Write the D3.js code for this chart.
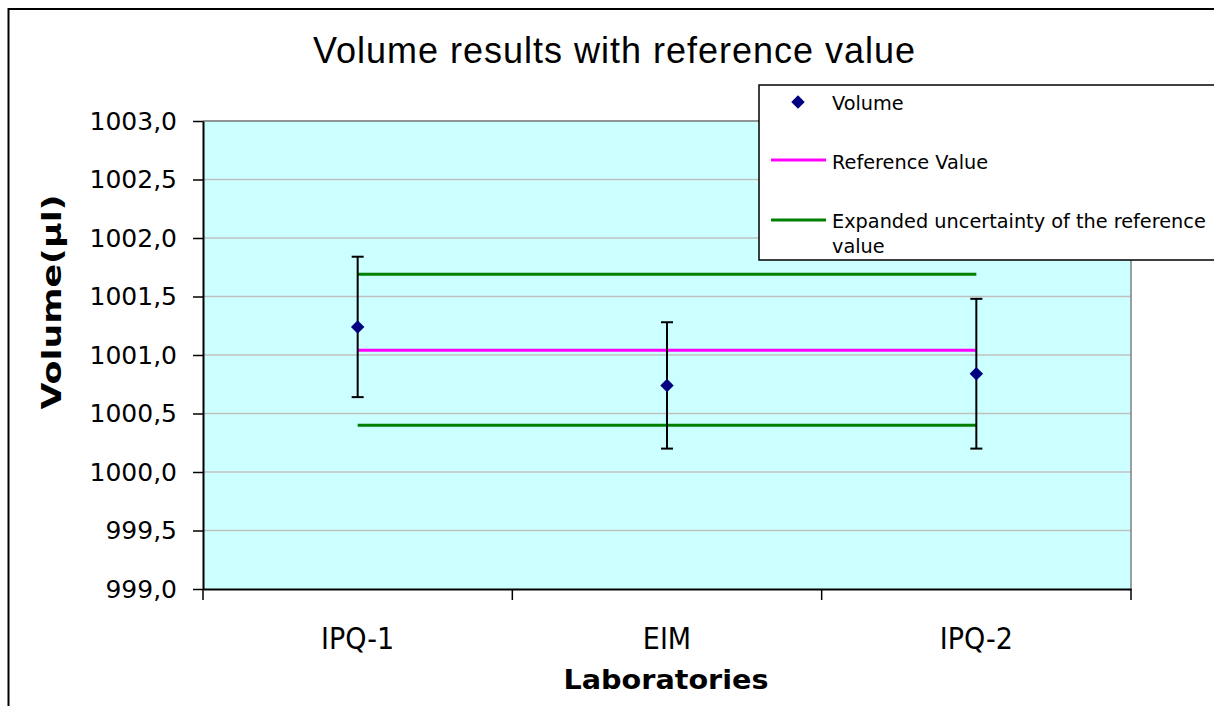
<!DOCTYPE html>
<html>
<head>
<meta charset="utf-8">
<script src="https://cdn.jsdelivr.net/npm/d3@7"></script>
<style>
  body { margin: 0; background: #fff; }
  svg { display: block; }
</style>
</head>
<body>
<svg width="1214" height="706"></svg>
<script>
// chart data
const labs = ["IPQ-1", "EIM", "IPQ-2"];
const volume = [1001.24, 1000.74, 1000.84];
const volumeU = [0.6, 0.54, 0.64];
const refValue = [1001.04, 1001.04, 1001.04];
const refUpper = [1001.69, 1001.69, 1001.69];
const refLower = [1000.40, 1000.40, 1000.40];
const yTicks = [999, 999.5, 1000, 1000.5, 1001, 1001.5, 1002, 1002.5, 1003];
const legendNames = ["Volume", "Reference Value", "Expanded uncertainty of the reference value"];

document.addEventListener("DOMContentLoaded", function () {
  const svg = d3.select("svg");
  const margin = { top: 121, right: 83, bottom: 117, left: 203 };
  const width = +svg.attr("width") - margin.left - margin.right;
  const height = +svg.attr("height") - margin.top - margin.bottom;

  // outer chart border (cropped on right and bottom)
  svg.append("rect")
    .attr("x", 8.5).attr("y", 9)
    .attr("width", 1240).attr("height", 740)
    .attr("fill", "#fff")
    .attr("stroke", "#000").attr("stroke-width", 2);

  const g = svg.append("g").attr("transform", `translate(${margin.left},${margin.top})`);

  const x = d3.scaleBand().domain(labs).range([0, width]);
  const y = d3.scaleLinear().domain([999, 1003]).range([height, 0]);
  const cx = (d) => x(d) + x.bandwidth() / 2;

  // plot area
  g.append("rect")
    .attr("width", width).attr("height", height)
    .attr("fill", "#ccffff");

  // gridlines
  g.selectAll(".grid")
    .data(yTicks.slice(1))
    .enter()
    .append("line")
    .attr("class", "grid")
    .attr("x1", 0).attr("x2", width)
    .attr("y1", (d) => y(d)).attr("y2", (d) => y(d))
    .attr("stroke", "#c0c0c0").attr("stroke-width", 1.5);

  // plot border top/right
  g.append("path")
    .attr("d", `M0,0H${width}V${height}`)
    .attr("fill", "none")
    .attr("stroke", "#808080").attr("stroke-width", 1.5);

  // y axis
  const fmt = d3.formatLocale({ decimal: ",", thousands: "", grouping: [3], currency: ["", ""] }).format(".1f");
  const yAxis = g.append("g")
    .call(d3.axisLeft(y).tickValues(yTicks).tickFormat(fmt).tickSize(10).tickSizeOuter(0).tickPadding(16));
  yAxis.select(".domain").attr("stroke", "#000").attr("stroke-width", 2);
  yAxis.selectAll(".tick line").attr("stroke", "#000").attr("stroke-width", 1.5);
  yAxis.selectAll("text")
    .style("font-family", "DejaVu Sans")
    .style("font-size", "25px")
    .attr("fill", "#000");

  // x axis (labels a bit narrow, like the original)
  const xAxis = g.append("g")
    .attr("transform", `translate(0,${height})`)
    .call(d3.axisBottom(x).tickSize(0).tickSizeOuter(0).tickPadding(39));
  xAxis.select(".domain").attr("stroke", "#000").attr("stroke-width", 2);
  xAxis.selectAll("text")
    .attr("transform", "scale(0.9,1)")
    .style("font-family", "DejaVu Sans")
    .style("font-size", "30px")
    .attr("fill", "#000");

  // category boundary ticks
  const bounds = d3.range(labs.length + 1).map((i) => i * x.step());
  xAxis.selectAll(".bound")
    .data(bounds)
    .enter()
    .append("line")
    .attr("class", "bound")
    .attr("x1", (d) => d).attr("x2", (d) => d)
    .attr("y1", 0).attr("y2", 11)
    .attr("stroke", "#000").attr("stroke-width", 1.5);

  // reference lines
  const line = d3.line().x((d, i) => cx(labs[i])).y((d) => y(d));
  g.append("path").datum(refUpper).attr("d", line)
    .attr("fill", "none").attr("stroke", "#008000").attr("stroke-width", 3);
  g.append("path").datum(refLower).attr("d", line)
    .attr("fill", "none").attr("stroke", "#008000").attr("stroke-width", 3);
  g.append("path").datum(refValue).attr("d", line)
    .attr("fill", "none").attr("stroke", "#ff00ff").attr("stroke-width", 3);

  // error bars
  const pts = labs.map((l, i) => ({ lab: l, v: volume[i], u: volumeU[i] }));
  const eb = g.selectAll(".err").data(pts).enter().append("g").attr("class", "err");
  eb.append("line")
    .attr("x1", (d) => cx(d.lab)).attr("x2", (d) => cx(d.lab))
    .attr("y1", (d) => y(d.v + d.u)).attr("y2", (d) => y(d.v - d.u))
    .attr("stroke", "#000").attr("stroke-width", 2);
  [1, -1].forEach((s) => {
    eb.append("line")
      .attr("x1", (d) => cx(d.lab) - 6).attr("x2", (d) => cx(d.lab) + 6)
      .attr("y1", (d) => y(d.v + s * d.u)).attr("y2", (d) => y(d.v + s * d.u))
      .attr("stroke", "#000").attr("stroke-width", 2);
  });

  // diamonds
  const diamond = d3.symbol().type(d3.symbolDiamond2).size(115);
  g.selectAll(".pt").data(pts).enter().append("path")
    .attr("class", "pt")
    .attr("d", diamond)
    .attr("transform", (d) => `translate(${cx(d.lab)},${y(d.v)})`)
    .attr("fill", "#000080");

  // title
  svg.append("text")
    .attr("x", 614).attr("y", 63)
    .attr("text-anchor", "middle")
    .attr("textLength", 602)
    .style("font-family", "Liberation Sans")
    .style("font-size", "36px")
    .text("Volume results with reference value");

  // axis titles
  svg.append("text")
    .attr("x", 666).attr("y", 689)
    .attr("text-anchor", "middle")
    .attr("textLength", 205)
    .attr("lengthAdjust", "spacingAndGlyphs")
    .style("font-family", "DejaVu Sans")
    .style("font-weight", "bold")
    .style("font-size", "26px")
    .text("Laboratories");

  svg.append("text")
    .attr("transform", "translate(61,302) rotate(-90)")
    .attr("text-anchor", "middle")
    .attr("textLength", 215)
    .attr("lengthAdjust", "spacingAndGlyphs")
    .style("font-family", "DejaVu Sans")
    .style("font-weight", "bold")
    .style("font-size", "26px")
    .text("Volume(\u00b5l)");

  // legend
  const legend = svg.append("g").attr("class", "legend");
  legend.append("rect")
    .attr("x", 759).attr("y", 85)
    .attr("width", 500).attr("height", 175)
    .attr("fill", "#fff")
    .attr("stroke", "#000").attr("stroke-width", 1.5);

  legend.append("path")
    .attr("d", diamond)
    .attr("transform", "translate(798,102)")
    .attr("fill", "#000080");
  legend.append("line")
    .attr("x1", 771).attr("x2", 826).attr("y1", 160).attr("y2", 160)
    .attr("stroke", "#ff00ff").attr("stroke-width", 3);
  legend.append("line")
    .attr("x1", 771).attr("x2", 826).attr("y1", 220).attr("y2", 220)
    .attr("stroke", "#008000").attr("stroke-width", 3);

  const lt = legend.selectAll(".lt")
    .data([
      { t: legendNames[0], y: 110 },
      { t: legendNames[1], y: 169 },
      { t: "Expanded uncertainty of the reference", y: 228 },
      { t: "value", y: 253 },
    ])
    .enter()
    .append("text")
    .attr("class", "lt")
    .attr("x", 832).attr("y", (d) => d.y)
    .style("font-family", "DejaVu Sans")
    .style("font-size", "19.3px")
    .text((d) => d.t);
});
</script>
</body>
</html>
